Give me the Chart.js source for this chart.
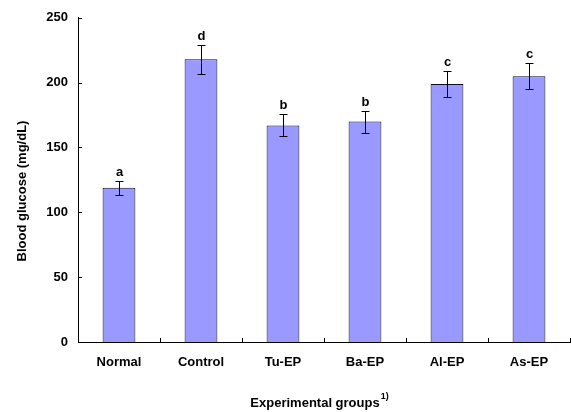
<!DOCTYPE html>
<html>
<head>
<meta charset="utf-8">
<script src="https://cdn.jsdelivr.net/npm/chart.js@4"></script>
<style>
  html, body { margin: 0; padding: 0; background: #fff; }
  #wrap { width: 571px; height: 412px; }
</style>
</head>
<body>
<div id="wrap"><canvas id="c" width="571" height="412"></canvas></div>
<script>
// data
const groups = ['Normal', 'Control', 'Tu-EP', 'Ba-EP', 'Al-EP', 'As-EP'];
const glucose = [119, 218, 167, 170, 199, 205];
const sem = [5.5, 11, 8.5, 8.5, 10, 10];
const letters = ['a', 'd', 'b', 'b', 'c', 'c'];
const yTicks = [0, 50, 100, 150, 200, 250];

const FONT = '"Liberation Sans", Arial, sans-serif';
const SIZE = 13;

// error bars, letters, inward ticks and axis titles
const extras = {
    id: 'extras',
    afterDatasetsDraw(chart) {
        const ctx = chart.ctx;
        const x = chart.scales.x, y = chart.scales.y;
        ctx.save();
        ctx.strokeStyle = '#000';
        ctx.lineWidth = 1;
        ctx.fillStyle = '#000';
        ctx.font = 'bold ' + SIZE + 'px ' + FONT;
        ctx.textAlign = 'center';
        ctx.textBaseline = 'alphabetic';
        glucose.forEach((v, i) => {
            const px = Math.round(x.getPixelForValue(i)) + 0.5;
            const top = Math.round(y.getPixelForValue(v + sem[i])) + 0.5;
            const bot = Math.round(y.getPixelForValue(v - sem[i])) + 0.5;
            ctx.beginPath();
            ctx.moveTo(px, top); ctx.lineTo(px, bot);
            ctx.moveTo(px - 4, top); ctx.lineTo(px + 4, top);
            ctx.moveTo(px - 4, bot); ctx.lineTo(px + 4, bot);
            ctx.stroke();
            ctx.fillText(letters[i], px, top - 6);
        });
        ctx.restore();
    },
    afterDraw(chart) {
        const ctx = chart.ctx;
        const x = chart.scales.x, y = chart.scales.y;
        const area = chart.chartArea;
        ctx.save();
        ctx.strokeStyle = '#000';
        ctx.lineWidth = 1;
        ctx.beginPath();
        // y ticks pointing into the plot
        yTicks.forEach(t => {
            const py = Math.round(y.getPixelForValue(t)) + 0.5;
            ctx.moveTo(area.left, py); ctx.lineTo(area.left + 4, py);
        });
        // x ticks at category boundaries, pointing up
        for (let i = 0; i <= groups.length; i++) {
            const px = Math.round(x.getPixelForValue(i - 0.5)) + 0.5;
            ctx.moveTo(px, area.bottom); ctx.lineTo(px, area.bottom - 4);
        }
        ctx.stroke();

        ctx.fillStyle = '#000';
        ctx.textBaseline = 'middle';
        // x title with superscript
        const title = 'Experimental groups';
        const sup = '1)';
        ctx.font = 'bold ' + SIZE + 'px ' + FONT;
        const tw = ctx.measureText(title).width;
        ctx.font = 'bold 9px ' + FONT;
        const sw = ctx.measureText(sup).width;
        const cx = 319, cy = 403;
        const start = cx - (tw + sw) / 2;
        ctx.textAlign = 'left';
        ctx.font = 'bold ' + SIZE + 'px ' + FONT;
        ctx.fillText(title, start, cy);
        ctx.font = 'bold 9px ' + FONT;
        ctx.fillText(sup, start + tw + 1, cy - 6);
        // y title
        ctx.font = 'bold ' + SIZE + 'px ' + FONT;
        ctx.textAlign = 'center';
        ctx.translate(22, 191);
        ctx.rotate(-Math.PI / 2);
        ctx.fillText('Blood glucose (mg/dL)', 0, 0);
        ctx.restore();
    }
};

new Chart(document.getElementById('c'), {
    type: 'bar',
    data: {
        labels: groups,
        datasets: [{
            data: glucose,
            backgroundColor: '#9999ff',
            borderColor: '#111',
            borderWidth: 1,
            barPercentage: 0.4,
            categoryPercentage: 1.0
        }]
    },
    options: {
        responsive: false,
        animation: false,
        layout: { padding: { top: 10, right: 1, left: 0, bottom: 0 } },
        plugins: { legend: { display: false }, tooltip: { enabled: false } },
        scales: {
            x: {
                grid: { display: false, drawTicks: false },
                border: { color: '#000', width: 1 },
                ticks: { color: '#000', font: { family: FONT, size: SIZE, weight: 'bold' }, padding: 13 },
                afterFit(s) { s.height = 70; }
            },
            y: {
                min: 0, max: 250,
                grid: { display: false, drawTicks: false },
                border: { color: '#000', width: 1 },
                ticks: {
                    color: '#000', font: { family: FONT, size: SIZE, weight: 'bold' }, padding: 10,
                    stepSize: 50
                },
                afterBuildTicks(s) { s.ticks = yTicks.map(v => ({ value: v })); },
                afterFit(s) { s.width = 78; }
            }
        }
    },
    plugins: [extras]
});
</script>
</body>
</html>
